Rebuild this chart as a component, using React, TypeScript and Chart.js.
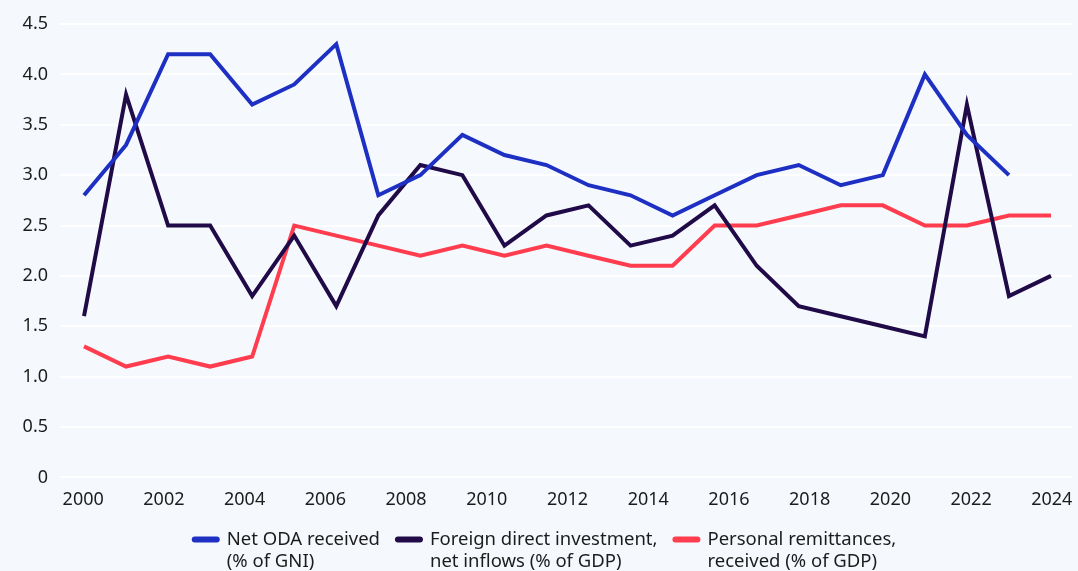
import React, { useEffect, useRef } from 'react';
import { Chart, registerables } from 'chart.js';

Chart.register(...registerables);

// Data slots (one per year of data)
const dataYears = [
  '2000', '2001', '2002', '2003', '2004', '2005', '2006', '2007', '2008', '2009', '2010', '2011',
  '2012', '2013', '2014', '2015', '2016', '2017', '2018', '2019', '2020', '2021', '2022', '2023',
];

// Axis tick labels as drawn on the x axis
const tickYears = [
  '2000', '2001', '2002', '2003', '2004', '2005', '2006', '2007', '2008', '2009', '2010', '2011', '2012',
  '2013', '2014', '2015', '2016', '2017', '2018', '2019', '2020', '2021', '2022', '2023', '2024',
];

const odaValues = [
  2.8, 3.3, 4.2, 4.2, 3.7, 3.9, 4.3, 2.8, 3.0, 3.4, 3.2, 3.1,
  2.9, 2.8, 2.6, 2.8, 3.0, 3.1, 2.9, 3.0, 4.0, 3.4, 3.0, null,
];
const fdiValues = [
  1.6, 3.8, 2.5, 2.5, 1.8, 2.4, 1.7, 2.6, 3.1, 3.0, 2.3, 2.6,
  2.7, 2.3, 2.4, 2.7, 2.1, 1.7, 1.6, 1.5, 1.4, 3.7, 1.8, 2.0,
];
const remittanceValues = [
  1.3, 1.1, 1.2, 1.1, 1.2, 2.5, 2.4, 2.3, 2.2, 2.3, 2.2, 2.3,
  2.2, 2.1, 2.1, 2.5, 2.5, 2.6, 2.7, 2.7, 2.5, 2.5, 2.6, 2.6,
];

const seriesLabels = [
  ['Net ODA received', '(% of GNI)'],
  ['Foreign direct investment,', 'net inflows (% of GDP)'],
  ['Personal remittances,', 'received (% of GDP)'],
];
const seriesColors = ['#1e30c3', '#200a48', '#ff3d4e'];

const yMin = 0;
const yMax = 4.5;
const yStep = 0.5;

const FONT = '"Noto Sans", "Open Sans", sans-serif';
const TEXT_COLOR = '#1c1c1c';
const BG = '#f5f9fd';

const multiLineLegend = {
  id: 'multiLineLegend',
  afterDraw(chart: any) {
    const ctx = chart.ctx as CanvasRenderingContext2D;
    const fontSize = 18.5;
    const lineHeight = 22;
    const boxW = 28;
    const boxH = 6;
    const gap = 7;
    const itemSpacing = 15;
    ctx.save();
    ctx.font = `${fontSize}px ${FONT}`;
    const items = chart.data.datasets.map((ds: any, i: number) => {
      const lines = seriesLabels[i];
      const textW = Math.max(...lines.map((l) => ctx.measureText(l).width));
      return { color: ds.borderColor as string, lines, width: boxW + gap + textW };
    });
    const total = items.reduce((a: number, it: any) => a + it.width, 0) + itemSpacing * (items.length - 1);
    let x = chart.width / 2 + 5 - total / 2;
    const baseline = chart.chartArea.bottom + 68;
    ctx.textBaseline = 'alphabetic';
    ctx.textAlign = 'left';
    for (const it of items) {
      ctx.fillStyle = it.color;
      const cy = baseline - 6;
      ctx.beginPath();
      if ((ctx as any).roundRect) {
        (ctx as any).roundRect(x, cy - boxH / 2, boxW, boxH, 3);
      } else {
        ctx.rect(x, cy - boxH / 2, boxW, boxH);
      }
      ctx.fill();
      ctx.fillStyle = TEXT_COLOR;
      it.lines.forEach((l: string, li: number) => {
        ctx.fillText(l, x + boxW + gap, baseline + li * lineHeight);
      });
      x += it.width + itemSpacing;
    }
    ctx.restore();
  },
};

export default function App() {
  const canvasRef = useRef<HTMLCanvasElement | null>(null);

  useEffect(() => {
    document.body.style.margin = '0';
    document.body.style.background = BG;
    const canvas = canvasRef.current;
    if (!canvas) return;

    const seriesValues = [odaValues, fdiValues, remittanceValues];

    const chart = new Chart(canvas, {
      type: 'line',
      data: {
        labels: dataYears,
        datasets: seriesValues.map((vals, i) => ({
          label: seriesLabels[i].join(' '),
          data: vals,
          borderColor: seriesColors[i],
          backgroundColor: seriesColors[i],
          borderWidth: 4,
          pointRadius: 0,
          pointHoverRadius: 0,
          tension: 0,
          fill: false,
          spanGaps: false,
          borderCapStyle: 'butt',
          borderJoinStyle: 'miter',
          xAxisID: 'x',
          yAxisID: 'y',
        })),
      },
      plugins: [multiLineLegend],
      options: {
        animation: false,
        responsive: false,
        maintainAspectRatio: false,
        devicePixelRatio: 1,
        layout: { padding: { top: 24, right: 6, left: 0, bottom: 48 } },
        font: { family: FONT, size: 18 },
        color: TEXT_COLOR,
        plugins: {
          tooltip: { enabled: false },
          legend: { display: false },
        },
        scales: {
          x: {
            type: 'category',
            position: 'bottom',
            display: false,
            offset: true,
          },
          xTicks: {
            type: 'category',
            position: 'bottom',
            labels: tickYears,
            offset: true,
            grid: { display: false, drawTicks: false, tickLength: 0 },
            border: { display: false },
            ticks: {
              autoSkip: false,
              maxRotation: 0,
              padding: 12,
              color: TEXT_COLOR,
              font: { family: FONT, size: 18 },
              callback: (_v: any, index: number) => (index % 2 === 0 ? tickYears[index] : ''),
            },
            afterFit: (scale: any) => {
              scale.paddingLeft = 0;
              scale.paddingRight = 0;
            },
          },
          y: {
            type: 'linear',
            min: yMin,
            max: yMax,
            grid: { color: '#ffffff', lineWidth: 2, drawTicks: true, tickLength: 3 },
            border: { display: false },
            ticks: {
              stepSize: yStep,
              padding: 12,
              color: TEXT_COLOR,
              font: { family: FONT, size: 18 },
              callback: (v: any) => (Number(v) === 0 ? '0' : Number(v).toFixed(1)),
            },
            afterFit: (scale: any) => {
              scale.width = 63;
            },
          },
        },
      },
    });

    return () => chart.destroy();
  }, []);

  return (
    <div style={{ width: 1078, height: 571, background: BG, overflow: 'hidden' }}>
      <canvas ref={canvasRef} width={1078} height={571} style={{ display: 'block', width: 1078, height: 571 }} />
    </div>
  );
}
